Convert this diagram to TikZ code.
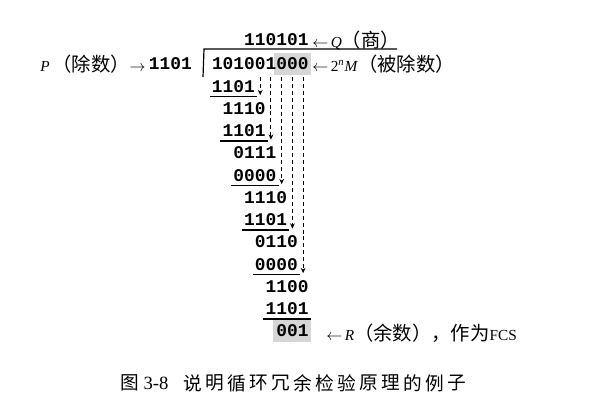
\documentclass[tikz,border=0pt]{standalone}
\usepackage{fontspec}
\setmainfont{Liberation Serif}
\setmonofont{Liberation Mono}
\newfontfamily\cjk{Noto Sans CJK SC}
\newcommand{\zh}[1]{{\cjk\fontsize{14.5}{17}\selectfont #1}}
\usetikzlibrary{arrows.meta,fit,backgrounds,calc}

\begin{document}
\begin{tikzpicture}[x=0.75pt,y=-0.75pt,
  num/.style={font=\ttfamily\bfseries\fontsize{13.4}{16}\selectfont,inner sep=0pt},
  lbl/.style={font=\fontsize{11.5}{14}\selectfont,inner sep=0pt},
  capt/.style={font=\fontsize{14}{17}\selectfont,inner sep=0pt},
  rule/.style={line width=0.9pt},
  carry/.style={line width=0.8pt,dash pattern=on 3pt off 2.2pt,-{Stealth[length=4pt,width=3.6pt]}},
  shade/.style={fill=black!16,draw=none},
]
\useasboundingbox (0,0) rectangle (607,411);

% quotient and divisor
\node[num] (quo) at (276.32,40) {110101};
\node[num,anchor=east] (dvs) at (192,64) {1101};

% dividend, one node per digit
\foreach \d [count=\i from 0] in {1,0,1,0,0,1,0,0,0}
  \node[num,minimum width=8.04pt] (d\i) at ({217.36+10.72*\i},64) {\d};

% division bracket
\coordinate (brk) at (204,49);
\coordinate (brkend) at (397,49);
\coordinate (brkbot) at (203,77);
\draw[rule] (brkbot) -- (brk) -- (brkend);

% subtraction steps
\node[num] (s1) at (233.44,86.25) {1101};
\node[num] (r1) at (244.16,108.5) {1110};
\node[num] (s2) at (244.16,130.75) {1101};
\node[num] (r2) at (254.88,153) {0111};
\node[num] (s3) at (254.88,175.25) {0000};
\node[num] (r3) at (265.6,197.5) {1110};
\node[num] (s4) at (265.6,219.75) {1101};
\node[num] (r4) at (276.32,242) {0110};
\node[num] (s5) at (276.32,264.25) {0000};
\node[num] (r5) at (287.04,286.5) {1100};
\node[num] (s6) at (287.04,308.75) {1101};
\node[num,shade,inner xsep=2.2pt,inner ysep=3.5pt] (rem) at (292.4,331) {001};
\foreach \i in {1,...,6}
  \draw[rule] ([xshift=-1.5pt,yshift=-3pt]s\i.south west) -- ([xshift=1.5pt,yshift=-3pt]s\i.south east);

% appended zeros
\begin{scope}[on background layer]
  \node[shade,fit=(d6)(d8),inner xsep=1.5pt,inner ysep=3.5pt] (pad) {};
\end{scope}

% brought-down digits
\foreach \i/\r in {4/1,5/2,6/3,7/4,8/5}
  \draw[carry] ([yshift=-5pt]d\i.south) -- ($(d\i |- r\r.north)+(0,-7)$);

% labels
\node[lbl,anchor=west] (qlab) at (312,40) {$\leftarrow$\,\textit{Q}\zh{（商）}};
\node[lbl,anchor=west] (mlab) at (312,64) {$\leftarrow$\,2\textsuperscript{\textit{n}}\textit{M}\zh{（被除数）}};
\node[lbl,anchor=east] (plab) at (146,64) {\textit{P}\,\zh{（除数）}$\rightarrow$};
\node[lbl,anchor=west] (rlab) at (326,333) {$\leftarrow$\,\textit{R}\zh{（余数），作为}FCS};

% caption
\node[capt,anchor=west] (fig) at (120,383) {{\cjk 图} 3-8};
\foreach \c [count=\i from 0] in {说,明,循,环,冗,余,检,验,原,理,的,例,子}
  \node[capt] (cap\i) at ({192.5+22*\i},383) {\cjk\c};
\end{tikzpicture}
\end{document}
